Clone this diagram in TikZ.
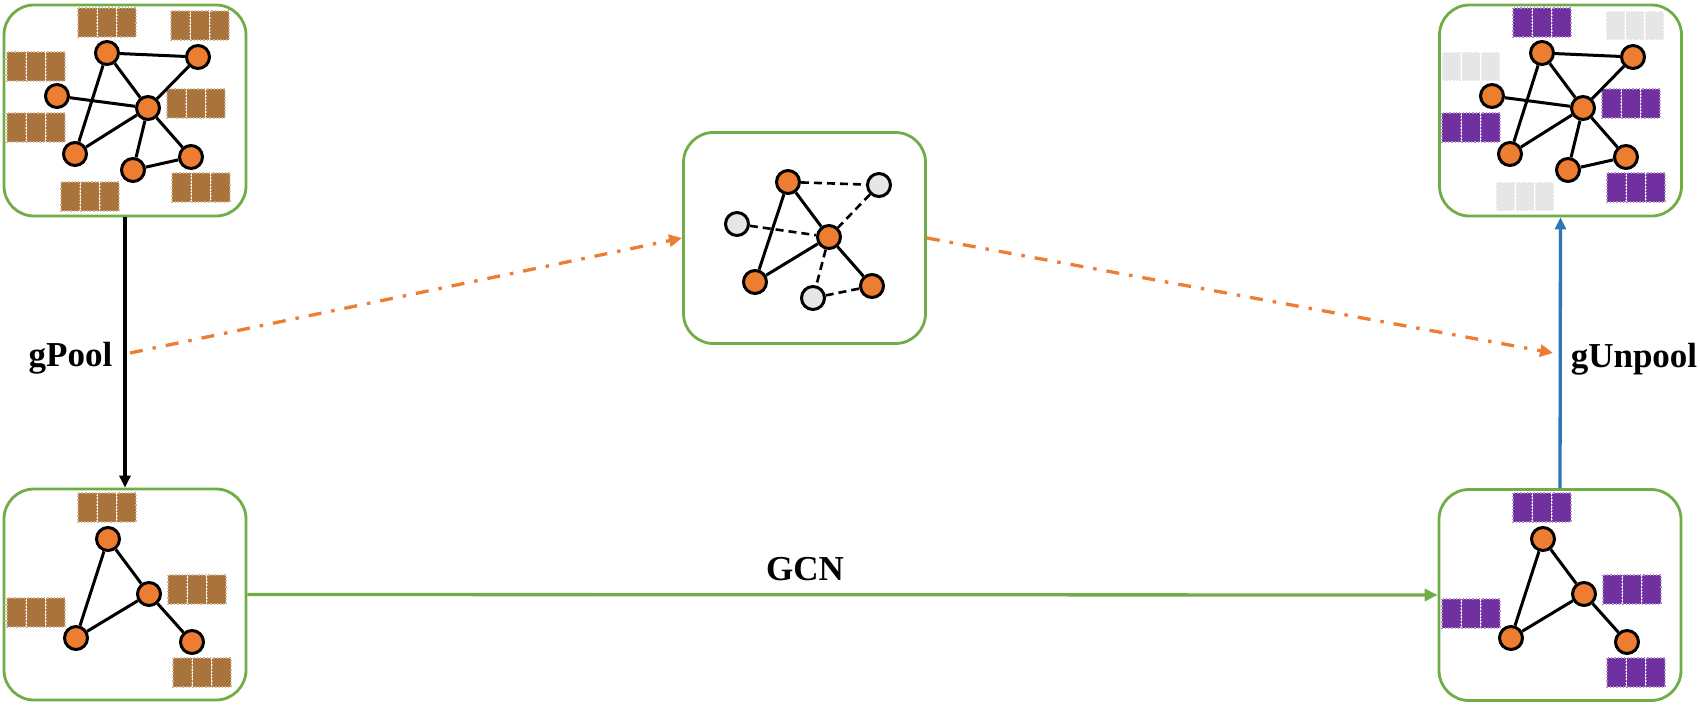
\documentclass[tikz,border=0pt]{standalone}
\usepackage{fontspec}
\setmainfont{Liberation Serif}
\usetikzlibrary{arrows.meta}
\definecolor{boxgreen}{HTML}{70AD47}
\definecolor{vorange}{HTML}{ED7D31}
\definecolor{vgray}{HTML}{E7E6E6}
\definecolor{upblue}{HTML}{2E75B6}
\definecolor{fpurple}{HTML}{7030A0}
\definecolor{fbrown}{HTML}{A8743C}
\tikzset{
  panel/.style={draw=boxgreen, line width=2.8pt, rounded corners=30pt, minimum width=242pt, minimum height=211pt, inner sep=0pt},
  vtx/.style={circle, draw=black, line width=3pt, fill=vorange, minimum size=23pt, inner sep=0pt},
  gvtx/.style={vtx, fill=vgray},
  gedge/.style={line width=3pt, black},
  dedge/.style={gedge, line width=2.6pt, dash pattern=on 8pt off 5pt},
  featbrown/.style={fill=fbrown, draw=fbrown!55!white, dotted, line width=1.2pt},
  featpurple/.style={fill=fpurple, draw=fpurple!55!white, dotted, line width=1.2pt},
  featgray/.style={fill=vgray, draw=white, dotted, line width=1.2pt},
  lbl/.style={font=\bfseries\fontsize{35}{42}\selectfont, inner sep=0pt, anchor=base},
  poolarrow/.style={line width=3.3pt, black, -{Triangle[length=12pt,width=11pt]}},
  unpoolarrow/.style={line width=3.3pt, upblue, -{Triangle[length=12pt,width=11pt]}},
  gcnarrow/.style={line width=3.3pt, boxgreen, -{Triangle[length=13pt,width=12pt]}},
  selarrow/.style={line width=3.3pt, vorange, dash pattern=on 13pt off 10pt on 3.5pt off 10pt, -{Triangle[length=13pt,width=12pt]}}
}
\newcommand\fgroup[3]{%
  \foreach \k in {0,1,2}{\filldraw[#3] ({#1+\k*19.7},#2) rectangle ++(18.5,29);}%
}
\newcommand\biggraph[2]{%
  \begin{scope}[xshift=#2pt]
    \node[vtx] (#1A) at (107,53) {};
    \node[vtx] (#1B) at (198,57) {};
    \node[vtx] (#1C) at (57,96) {};
    \node[vtx] (#1D) at (148,108) {};
    \node[vtx] (#1E) at (75,154) {};
    \node[vtx] (#1F) at (133,170) {};
    \node[vtx] (#1G) at (191,157) {};
    \draw[gedge] (#1A) -- (#1B);
    \draw[gedge] (#1A) -- (#1D);
    \draw[gedge] (#1B) -- (#1D);
    \draw[gedge] (#1C) -- (#1D);
    \draw[gedge] (#1A) -- (#1E);
    \draw[gedge] (#1E) -- (#1D);
    \draw[gedge] (#1D) -- (#1F);
    \draw[gedge] (#1D) -- (#1G);
    \draw[gedge] (#1F) -- (#1G);
  \end{scope}%
}
\newcommand\smallgraph[2]{%
  \begin{scope}[xshift=#2pt]
    \node[vtx] (#1a) at (108,539) {};
    \node[vtx] (#1b) at (149,594) {};
    \node[vtx] (#1c) at (76,638) {};
    \node[vtx] (#1d) at (192,642) {};
    \draw[gedge] (#1a) -- (#1c);
    \draw[gedge] (#1a) -- (#1b);
    \draw[gedge] (#1b) -- (#1c);
    \draw[gedge] (#1b) -- (#1d);
  \end{scope}%
}
\begin{document}
\begin{tikzpicture}[x=1pt,y=-1pt]
\useasboundingbox (0,0) rectangle (1700,706);
% panels
\node[panel] (tl) at (125,110.5) {};
\node[panel] (tr) at (1560.5,110.5) {};
\node[panel] (mid) at (804.5,238) {};
\node[panel] (bl) at (125,594.5) {};
\node[panel] (br) at (1560,595) {};
% features top-left
\fgroup{78}{8}{featbrown}
\fgroup{171}{11}{featbrown}
\fgroup{7}{52}{featbrown}
\fgroup{167}{89}{featbrown}
\fgroup{7}{113}{featbrown}
\fgroup{61}{182}{featbrown}
\fgroup{172}{173}{featbrown}
% features top-right
\fgroup{1513}{8}{featpurple}
\fgroup{1606}{11}{featgray}
\fgroup{1442}{52}{featgray}
\fgroup{1602}{89}{featpurple}
\fgroup{1442}{113}{featpurple}
\fgroup{1496}{182}{featgray}
\fgroup{1607}{173}{featpurple}
% features bottom-left
\fgroup{78}{493}{featbrown}
\fgroup{168}{575}{featbrown}
\fgroup{7}{598}{featbrown}
\fgroup{173}{658}{featbrown}
% features bottom-right
\fgroup{1513}{493}{featpurple}
\fgroup{1603}{575}{featpurple}
\fgroup{1442}{599}{featpurple}
\fgroup{1607}{658}{featpurple}
% graphs
\biggraph{tl}{0}
\biggraph{tr}{1435}
\smallgraph{bl}{0}
\smallgraph{br}{1435}
% middle graph
\node[vtx] (m1) at (788,182) {};
\node[gvtx] (m2) at (737,224) {};
\node[vtx] (m3) at (829,237) {};
\node[vtx] (m4) at (755,282) {};
\node[gvtx] (m5) at (813,298) {};
\node[vtx] (m6) at (872,286) {};
\node[gvtx] (m7) at (879,185) {};
\draw[gedge] (m1) -- (m3);
\draw[gedge] (m1) -- (m4);
\draw[gedge] (m3) -- (m4);
\draw[gedge] (m3) -- (m6);
\draw[dedge] (m1) -- (m7);
\draw[dedge] (m7) -- (m3);
\draw[dedge] (m2) -- (m3);
\draw[dedge] (m3) -- (m5);
\draw[dedge] (m5) -- (m6);
% labels
\node[lbl] (gpool) at (70.5,366) {gPool};
\node[lbl] (gunpool) at (1634,367) {gUnpool};
\node[lbl] (gcn) at (805,580) {GCN};
% connectors
\coordinate (selstart) at (130,353);
\coordinate (selend) at (1553,353);
\draw[poolarrow] (tl.south) -- (bl.north);
\draw[unpoolarrow] (br.north) -- (tr.south);
\draw[gcnarrow] (bl.east) -- (br.west);
\draw[selarrow] (selstart) -- (mid.west);
\draw[selarrow] (mid.east) -- (selend);
\end{tikzpicture}
\end{document}
